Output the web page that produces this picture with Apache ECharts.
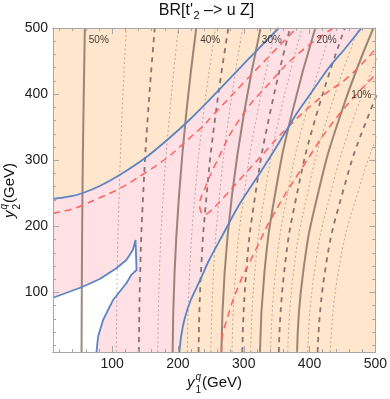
<!DOCTYPE html>
<html><head><meta charset="utf-8">
<script src="https://cdn.jsdelivr.net/npm/echarts@6/dist/echarts.min.js"></script>
<style>html,body{margin:0;padding:0;background:#fff}#c{width:390px;height:399px}</style>
</head><body><div id="c"></div>
<script>
// ---- axes ----
const axisMin = 10, axisMax = 500;
const majorTicks = [100, 200, 300, 400, 500];
const minorTicks = [20,40,60,80,120,140,160,180,220,240,260,280,320,340,360,380,420,440,460,480];

// ---- region boundaries (blue curves) ----
const upperBlue = [[10,241.4],[35.7,245.2],[55.4,250.5],[81.1,261.1],[111.3,277.7],[152.2,304.9],[187,333.7],[217.2,360.9],[247.4,391.1],[285.3,430.4],[320,466],[353.3,500]];
const lowerBlue = [[202.1,10],[205.1,35.7],[210.4,61.4],[219.5,88.6],[232.3,115.9],[247.4,149.1],[267.1,185.4],[292.8,232.3],[327.6,285.3],[353.3,326.1],[379,368.4],[403.3,403.2],[429,439.5],[454.7,469.8],[478.9,500]];
const whiteEdge = [[10,92],[53.4,107.9],[81.1,120.4],[106.3,136.6],[121.5,149.1],[131.4,164.3],[135.5,179.4],[137,180.9],[137,134],[129,126.5],[121.5,113.9],[108,97],[101.2,88.6],[86.1,58.4],[78.5,33.1],[76.1,10]];

// ---- BR contour lines (gray) ----
const br50  = [[53.4,10],[53.9,130],[54.8,250],[56.3,370],[58.4,500]];
const br475 = [[106.3,10],[107.6,130],[110.6,250],[115.0,370],[121.5,500]];
const br45  = [[140.5,10],[142.5,130],[147.2,250],[154.4,370],[164.7,500]];
const br425 = [[169.3,10],[171.8,130],[177.9,250],[187.3,370],[200.6,500]];
const br40  = [[191.9,10],[194.8,130],[201.9,250],[212.5,370],[227.8,500]];
const br375 = [[214.2,10],[217.7,130],[226.1,250],[238.8,370],[257.1,500]];
const br35  = [[231.3,10],[234.9,130],[243.8,250],[257.3,370],[276.6,500]];
const br325 = [[250,10],[254,130],[263.5,250],[277.8,370],[298.4,500]];
const br30  = [[266,10],[270.9,130],[282.5,250],[300.2,370],[325.6,500]];
const br275 = [[282.2,10],[287.5,130],[300.7,250],[320.5,370],[348.8,500]];
const br25  = [[297.8,10],[303.6,130],[317.9,250],[339.6,370],[370.4,500]];
const br225 = [[310.5,10],[316.7,130],[332.1,250],[355.3,370],[388.5,500]];
const br20  = [[324.6,10],[331.4,130],[347.9,250],[373,370],[408.8,500]];
const br175 = [[340.8,10],[348.2,130],[366.6,250],[394.3,370],[434.1,500]];
const br15  = [[353.3,10],[361.3,130],[381.1,250],[410.9,370],[453.7,500]];
const br125 = [[366.9,10],[375.5,130],[396.9,250],[428.9,370],[474.9,500]];
const br10  = [[381,10],[390.2,130],[413,250],[447.5,370],[497,500]];
const br75  = [[397.2,10],[407.2,130],[432,250],[469.2,370],[522.7,500]];
const br5   = [[412.3,10],[423.2,130],[450,250],[490.5,370],[548.4,500]];
const br25s = [[431.5,10],[443.5,130],[473,250],[517.4,370],[581.2,500]];

const solidLines  = [br50, br40, br30, br20, br10];
const dashedLines = [br45, br35, br25, br15, br5];
const thinLines   = [br475, br425, br375, br325, br275, br225, br175, br125, br75, br25s];

// ---- red dashed curves ----
const redA = [[10,220],[55,232],[152,282],[232,346],[253,368],[315,433],[380.5,500]];
const redLoop = [[436,500],[384,462],[343,421],[293,361],[258,296],[240,255],[233,232],[235,222],[240,218],[248,222],[263,237],[295,272],[328,308],[363,346],[418,396],[459,426],[500,468]];
const redC = [[266,10],[267,30],[273,55],[292,110],[318,164],[343,214],[391,292],[444,368],[500,429]];

// ---- contour labels ----
const labelText = ['50%','40%','30%','20%','10%'];
const labelX = [79.6, 249, 342.7, 425.9, 478.8];
const labelY = [482, 482, 482, 482, 398.7];

const FONT = 'Liberation Sans, Arial, sans-serif';
const frameColor = '#a6a6a6';

function mkAxis(position, ticks, len, showLabels) {
  return {
    type: 'value', min: axisMin, max: axisMax, position: position, z: 10,
    axisLine: { show: true, onZero: false, lineStyle: { color: frameColor, width: 1 } },
    axisTick: { show: true, inside: true, length: len, customValues: ticks, lineStyle: { color: frameColor, width: 1 } },
    axisLabel: showLabels ? { show: true, customValues: majorTicks, fontSize: 14, color: '#222', margin: 5, fontFamily: FONT } : { show: false },
    splitLine: { show: false }
  };
}

function polySeries(points, color) {
  return {
    type: 'custom', silent: true, z: 1, data: [0],
    renderItem: function (params, api) {
      return { type: 'polygon', shape: { points: points.map(function (p) { return api.coord(p); }) }, style: { fill: color } };
    }
  };
}

function lineSeries(data, style, smooth, z) {
  return { type: 'line', data: data, symbol: 'none', smooth: smooth, silent: true, z: z, clip: true, lineStyle: style, animation: false };
}

const pinkPoly = upperBlue.concat(lowerBlue.slice().reverse()).concat([[10,10]]);
const whitePoly = [[10,10]].concat(whiteEdge);

const series = [];
series.push(polySeries(pinkPoly, '#FFE1E5'));
series.push(polySeries(whitePoly, '#FFFFFF'));
thinLines.forEach(function (d) { series.push(lineSeries(d, { type: [2, 2.5], width: 0.7, color: 'rgba(125,105,105,0.75)' }, true, 3)); });
dashedLines.forEach(function (d) { series.push(lineSeries(d, { type: [5, 5], width: 1.8, color: 'rgba(95,80,80,0.75)' }, true, 3)); });
solidLines.forEach(function (d) { series.push(lineSeries(d, { type: 'solid', width: 2, color: 'rgba(115,96,86,0.72)' }, true, 3)); });
[redA, redLoop, redC].forEach(function (d) { series.push(lineSeries(d, { type: [7, 5], width: 1.5, color: '#FF6060' }, true, 4)); });
[upperBlue, lowerBlue].forEach(function (d) { series.push(lineSeries(d, { type: 'solid', width: 1.8, color: '#5B84C4' }, 0.3, 5)); });
series.push(lineSeries(whiteEdge, { type: 'solid', width: 1.8, color: '#5B84C4' }, false, 5));
series.push({
  type: 'scatter', z: 6, silent: true, symbolSize: 1, itemStyle: { color: 'rgba(0,0,0,0)' },
  data: labelText.map(function (t, i) { return { name: t, value: [labelX[i], labelY[i]] }; }),
  label: { show: true, position: 'inside', formatter: '{b}', fontSize: 10, color: '#111', fontFamily: FONT }
});

const chart = echarts.init(document.getElementById('c'), null, { renderer: 'canvas' });
chart.setOption({
  animation: false,
  grid: { left: 53, top: 28, width: 324, height: 324, show: true, backgroundColor: '#FFE6CC', borderWidth: 0 },
  xAxis: [mkAxis('bottom', majorTicks, 6, true), mkAxis('bottom', minorTicks, 3, false), mkAxis('top', majorTicks, 6, false), mkAxis('top', minorTicks, 3, false)],
  yAxis: [mkAxis('left', majorTicks, 6, true), mkAxis('left', minorTicks, 3, false), mkAxis('right', majorTicks, 6, false), mkAxis('right', minorTicks, 3, false)],
  series: series,
  graphic: [
    { type: 'text', x: 193, y: 11, style: { text: "BR[t'", font: '16px ' + FONT, fill: '#111', align: 'right', verticalAlign: 'middle' } },
    { type: 'text', x: 193.5, y: 16, style: { text: '2', font: '11px ' + FONT, fill: '#111', align: 'left', verticalAlign: 'middle' } },
    { type: 'text', x: 204, y: 11, style: { text: '\u2013> u Z]', font: '16px ' + FONT, fill: '#111', align: 'left', verticalAlign: 'middle' } },
    { type: 'text', x: 187, y: 383, style: { text: 'y', font: 'italic 15px ' + FONT, fill: '#111', align: 'left', verticalAlign: 'middle' } },
    { type: 'text', x: 195.5, y: 377, style: { text: 'q', font: 'italic 10px ' + FONT, fill: '#111', align: 'left', verticalAlign: 'middle' } },
    { type: 'text', x: 195.5, y: 390, style: { text: '1', font: '10px ' + FONT, fill: '#111', align: 'left', verticalAlign: 'middle' } },
    { type: 'text', x: 202, y: 383, style: { text: '(GeV)', font: '15px ' + FONT, fill: '#111', align: 'left', verticalAlign: 'middle' } },
    { type: 'group', x: 10, y: 218, rotation: Math.PI / 2, children: [
      { type: 'text', x: 0, y: 0, style: { text: 'y', font: 'italic 15px ' + FONT, fill: '#111', align: 'left', verticalAlign: 'middle' } },
      { type: 'text', x: 8.5, y: -6, style: { text: 'q', font: 'italic 10px ' + FONT, fill: '#111', align: 'left', verticalAlign: 'middle' } },
      { type: 'text', x: 8.5, y: 7, style: { text: '2', font: '10px ' + FONT, fill: '#111', align: 'left', verticalAlign: 'middle' } },
      { type: 'text', x: 15, y: 0, style: { text: '(GeV)', font: '15px ' + FONT, fill: '#111', align: 'left', verticalAlign: 'middle' } }
    ] }
  ]
});
</script></body></html>
